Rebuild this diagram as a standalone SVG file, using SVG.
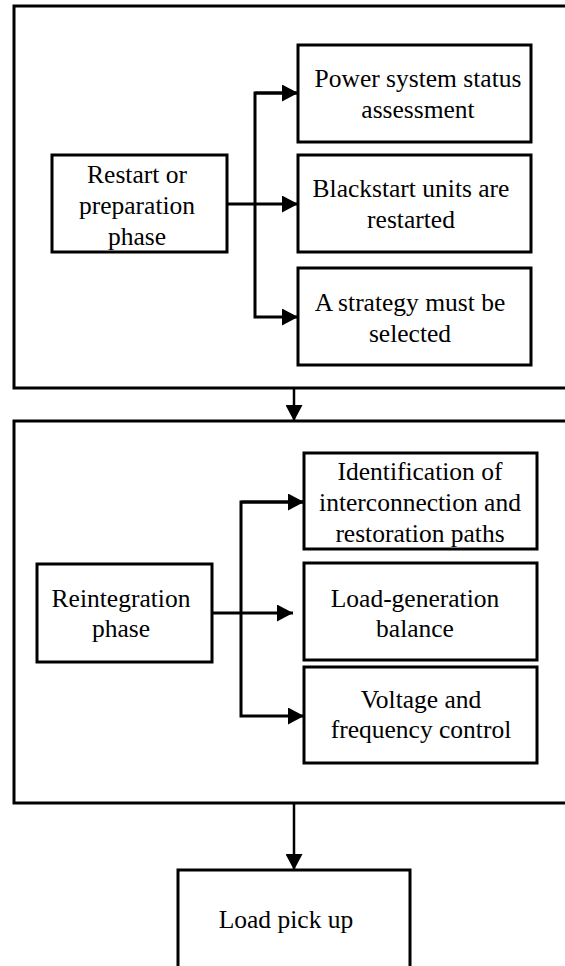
<svg xmlns="http://www.w3.org/2000/svg" width="565" height="966" viewBox="0 0 565 966">
  <style>
    .frame { fill: none; stroke: #000; stroke-width: 3; }
    .box { fill: #fff; stroke: #000; stroke-width: 3; }
    .lbl { font-family: 'Liberation Serif', 'Times New Roman', serif; font-size: 25.5px; fill: #000; text-anchor: middle; }
    .wire { fill: none; stroke: #000; stroke-width: 3; }
    .drop { fill: none; stroke: #000; stroke-width: 2.5; }
  </style>
  <defs>
    <marker id="head" viewBox="0 0 16 17" refX="16" refY="8.5" markerWidth="16" markerHeight="17" markerUnits="userSpaceOnUse" orient="auto">
      <path d="M0,0 L16,8.5 L0,17 Z" fill="#000"/>
    </marker>
  </defs>

  <rect width="565" height="966" fill="#fff"/>

  <!-- phase frames -->
  <g id="phase-restart-frame">
    <rect class="frame" x="14" y="6" width="570" height="382"/>
  </g>
  <g id="phase-reintegration-frame">
    <rect class="frame" x="14" y="421" width="570" height="382"/>
  </g>

  <!-- connectors -->
  <g id="connectors">
    <path class="wire" d="M227,204 H298" marker-end="url(#head)"/>
    <path class="wire" d="M298,93 H255 V317 H298" marker-end="url(#head)"/>
    <path class="wire" d="M255,93 H298" marker-end="url(#head)"/>
    <path class="drop" d="M294,388 V421" marker-end="url(#head)"/>
    <path class="wire" d="M212,613 H293" marker-end="url(#head)"/>
    <path class="wire" d="M304,502 H241 V716 H304" marker-end="url(#head)"/>
    <path class="wire" d="M241,502 H304" marker-end="url(#head)"/>
    <path class="drop" d="M294,803 V870" marker-end="url(#head)"/>
  </g>

  <!-- restart / preparation phase -->
  <g id="restart">
    <rect class="box" x="52" y="155" width="175" height="97"/>
    <text class="lbl" x="137" y="183">Restart or</text>
    <text class="lbl" x="137" y="214">preparation</text>
    <text class="lbl" x="137" y="245">phase</text>
  </g>
  <g id="status-assessment">
    <rect class="box" x="298" y="45" width="233" height="97"/>
    <text class="lbl" x="418" y="87">Power system status</text>
    <text class="lbl" x="418" y="118">assessment</text>
  </g>
  <g id="blackstart">
    <rect class="box" x="298" y="155" width="233" height="97"/>
    <text class="lbl" x="411" y="197">Blackstart units are</text>
    <text class="lbl" x="411" y="228">restarted</text>
  </g>
  <g id="strategy">
    <rect class="box" x="298" y="268" width="233" height="97"/>
    <text class="lbl" x="410" y="311">A strategy must be</text>
    <text class="lbl" x="410" y="342">selected</text>
  </g>

  <!-- reintegration phase -->
  <g id="reintegration">
    <rect class="box" x="37" y="564" width="175" height="98"/>
    <text class="lbl" x="121" y="607">Reintegration</text>
    <text class="lbl" x="121" y="637">phase</text>
  </g>
  <g id="paths">
    <rect class="box" x="304" y="453" width="233" height="96"/>
    <text class="lbl" x="420" y="480">Identification of</text>
    <text class="lbl" x="420" y="511">interconnection and</text>
    <text class="lbl" x="420" y="542">restoration paths</text>
  </g>
  <g id="balance">
    <rect class="box" x="304" y="563" width="233" height="97"/>
    <text class="lbl" x="415" y="607">Load-generation</text>
    <text class="lbl" x="415" y="637">balance</text>
  </g>
  <g id="control">
    <rect class="box" x="304" y="667" width="233" height="96"/>
    <text class="lbl" x="421" y="708">Voltage and</text>
    <text class="lbl" x="421" y="738">frequency control</text>
  </g>

  <!-- final stage -->
  <g id="load-pickup">
    <rect class="box" x="178" y="870" width="232" height="110"/>
    <text class="lbl" x="286" y="928">Load pick up</text>
  </g>
</svg>
